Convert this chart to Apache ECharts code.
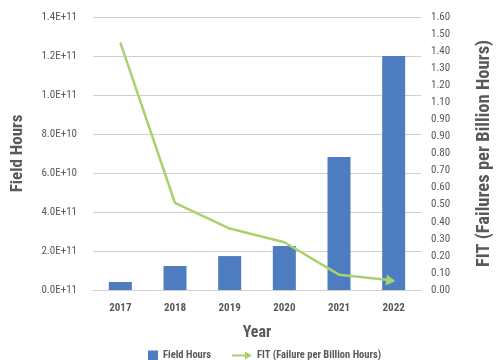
<!DOCTYPE html>
<html>
<head>
<meta charset="utf-8">
<script src="https://cdn.jsdelivr.net/npm/echarts@6/dist/echarts.min.js"></script>
<style>
html,body{margin:0;padding:0;background:#fff;}
#chart{width:502px;height:360px;}
</style>
</head>
<body>
<div id="chart"></div>
<script>
const years = ['2017', '2018', '2019', '2020', '2021', '2022'];
const fieldHours = [4.1e9, 12.3e9, 17.4e9, 22.6e9, 68.2e9, 120e9];
const fitValues = [1.45, 0.51, 0.36, 0.28, 0.09, 0.055];
const leftTickLabels = ['0.0E+11', '2.0E+11', '4.0E+11', '6.0E+10', '8.0E+10', '1.0E+11', '1.2E+11', '1.4E+11'];
const rightTickLabels = ['0.00', '0.10', '0.20', '0.30', '0.40', '0.50', '0.60', '0.70', '0.80', '0.90', '0.90', '1.10', '1.20', '1.30', '1.40', '1.50', '1.60'];

const FONT = "'Roboto Condensed', 'Liberation Sans', sans-serif";
const TXT = '#595959';
const BLUE = '#4E7CC0';
const GREEN = '#A9D26E';

const fitData = fitValues.map(function (v, i) {
  if (i === fitValues.length - 1) {
    return { value: v, symbol: 'triangle', symbolSize: [11, 9], symbolRotate: -97, symbolOffset: [-3, 0] };
  }
  return { value: v, symbol: 'none' };
});

const chart = echarts.init(document.getElementById('chart'), null, { renderer: 'canvas' });
chart.setOption({
  animation: false,
  textStyle: { fontFamily: FONT },
  grid: { left: 93, right: 74, top: 17, bottom: 70 },
  legend: [
    {
      data: ['Field Hours'],
      left: 143, top: 345,
      itemWidth: 10, itemHeight: 10, itemGap: 6,
      icon: 'rect',
      textStyle: { color: TXT, fontSize: 10.5, fontWeight: 'bold', fontFamily: FONT }
    },
    {
      data: ['FIT (Failure per Billion Hours)'],
      left: 227, top: 345,
      itemWidth: 20, itemHeight: 10, itemGap: 6,
      icon: 'path://M0,4 L13,4 L13,1 L20,5 L13,9 L13,6 L0,6 Z',
      textStyle: { color: TXT, fontSize: 10.5, fontWeight: 'bold', fontFamily: FONT }
    }
  ],
  xAxis: {
    type: 'category',
    data: years,
    name: 'Year',
    nameLocation: 'middle',
    nameGap: 35,
    nameTextStyle: { color: TXT, fontSize: 16, fontWeight: 'bold', fontFamily: FONT },
    axisLine: { show: true, lineStyle: { color: '#D0D0D0', width: 1 } },
    axisTick: { show: false },
    axisLabel: { color: TXT, fontSize: 11, fontWeight: 'bold', margin: 13, fontFamily: FONT }
  },
  yAxis: [
    {
      type: 'value',
      min: 0, max: 1.4e11, interval: 2e10,
      name: 'Field Hours',
      nameLocation: 'middle',
      nameGap: 67,
      nameRotate: 90,
      nameTextStyle: { color: TXT, fontSize: 17, fontWeight: 'bold', fontFamily: FONT },
      axisLine: { show: false },
      axisTick: { show: false },
      splitLine: { show: true, lineStyle: { color: '#D0D0D0', width: 1 } },
      axisLabel: {
        color: TXT, fontSize: 11, margin: 16, fontFamily: FONT,
        formatter: function (v, i) { return leftTickLabels[i]; }
      }
    },
    {
      type: 'value',
      position: 'right',
      min: 0, max: 1.6, interval: 0.1,
      name: 'FIT (Failures per Billion Hours)',
      nameLocation: 'middle',
      nameGap: 54,
      nameRotate: 90,
      nameTextStyle: { color: TXT, fontSize: 18.5, fontWeight: 'bold', fontFamily: FONT },
      axisLine: { show: false },
      axisTick: { show: false },
      splitLine: { show: false },
      axisLabel: {
        color: TXT, fontSize: 11, margin: 10, fontFamily: FONT,
        formatter: function (v, i) { return rightTickLabels[i]; }
      }
    }
  ],
  series: [
    {
      name: 'Field Hours',
      type: 'bar',
      yAxisIndex: 0,
      data: fieldHours,
      barWidth: 23,
      itemStyle: { color: BLUE }
    },
    {
      name: 'FIT (Failure per Billion Hours)',
      type: 'line',
      yAxisIndex: 1,
      data: fitData,
      symbol: 'none',
      itemStyle: { color: GREEN },
      lineStyle: { color: GREEN, width: 2.5 }
    }
  ]
});
</script>
</body>
</html>
